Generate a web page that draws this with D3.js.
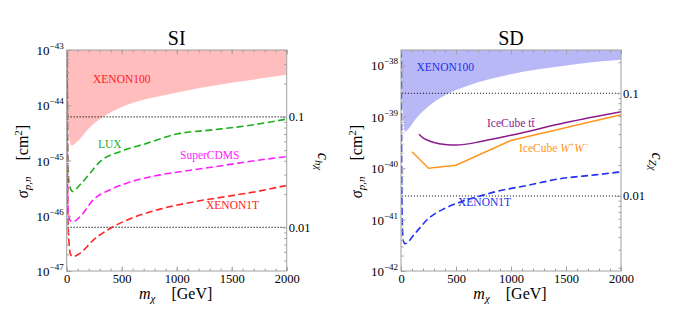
<!DOCTYPE html>
<html><head><meta charset="utf-8">
<script src="https://cdn.jsdelivr.net/npm/d3@7"></script>
<style>
body{margin:0;background:#fff}
svg{display:block;font-family:"Liberation Serif","Times New Roman",serif}
svg text, svg tspan{font-family:"Liberation Serif","Times New Roman",serif}
</style>
</head><body>
<svg id="chart" width="674" height="336"></svg>
<script>
// ---------- data (log10 of cross-section in cm^2, mass in GeV) ----------
const massTicks = [0, 500, 1000, 1500, 2000];
const siDecades = [-47, -46, -45, -44, -43];
const sdDecades = [-42, -41, -40, -39, -38];
const couplingTicks = [0.01, 0.1];
const couplingTickLabels = ["0.01", "0.1"];

// SI panel
const siXenon100Mass = [2, 8, 15, 25, 35, 45, 70, 121, 181, 302, 453, 604, 907, 1209, 1511, 2000];
const siXenon100Log  = [-43.0, -43.9, -44.38, -44.6, -44.7, -44.73, -44.7, -44.61, -44.46, -44.25, -44.075, -43.955, -43.81, -43.69, -43.59, -43.45];
const siLuxMass = [4, 10, 25, 54, 121, 212, 303, 485, 727, 1000, 1303, 1606, 2000];
const siLuxLog  = [-43.0, -45.0, -45.45, -45.56, -45.44, -45.23, -45.02, -44.84, -44.69, -44.52, -44.45, -44.38, -44.25];
const siCdmsMass = [2, 4, 8, 15, 30, 54, 121, 242, 394, 545, 848, 1151, 1455, 1757, 2000];
const siCdmsLog  = [-42.0, -43.5, -45.5, -45.95, -46.08, -46.11, -46.02, -45.71, -45.53, -45.41, -45.26, -45.17, -45.08, -44.99, -44.93];
const siX1tMass = [4, 10, 20, 35, 54, 121, 242, 394, 545, 848, 1151, 1455, 1757, 2000];
const siX1tLog  = [-43.0, -45.9, -46.45, -46.7, -46.74, -46.68, -46.44, -46.23, -46.08, -45.88, -45.75, -45.65, -45.55, -45.45];

// SD panel
const sdXenon100Mass = [3, 10, 20, 30, 36, 60, 127, 248, 400, 600, 800, 1000, 1300, 1600, 2000];
const sdXenon100Log  = [-37.6, -38.6, -39.0, -39.25, -39.29, -39.25, -39.06, -38.80, -38.58, -38.40, -38.27, -38.17, -38.06, -37.97, -37.89];
const sdX1tMass = [2, 6, 12, 20, 36, 127, 248, 400, 551, 703, 855, 1157, 1461, 1764, 2000];
const sdX1tLog  = [-37.5, -40.0, -41.1, -41.4, -41.47, -41.27, -40.98, -40.78, -40.65, -40.55, -40.46, -40.33, -40.20, -40.13, -40.07];
const sdIceTTMass = [164, 200, 250, 300, 400, 500, 750, 1000, 1500, 2000];
const sdIceTTLog  = [-39.34, -39.41, -39.46, -39.50, -39.54, -39.55, -39.47, -39.36, -39.11, -38.90];
const sdIceWWMass = [100, 250, 500, 1000, 2000];
const sdIceWWLog  = [-39.68, -40.0, -39.94, -39.46, -38.96];

// dotted reference couplings
const dottedMass = [8, 2000];
const dottedCouplings = [0.1, 0.01];

// ---------- drawing ----------
const FONT = "'Liberation Serif','Times New Roman',serif";
const svg = d3.select("#chart");
const zip = (m, l) => m.map((v, i) => ({m: v, s: Math.pow(10, l[i])}));

function drawPanel(p, idx) {
  const x = d3.scaleLinear().domain([0, 2000]).range([p.left, p.right]);
  const y = d3.scaleLog().domain(p.yDomain).range([p.bottom, p.top]);
  const yc = d3.scaleLog()
    .domain([Math.sqrt(p.yDomain[0] / p.cK), Math.sqrt(p.yDomain[1] / p.cK)])
    .range([p.bottom, p.top]);

  const clipId = "clip" + idx;
  svg.append("clipPath").attr("id", clipId).append("rect")
    .attr("x", p.left).attr("y", p.top).attr("width", p.right - p.left).attr("height", p.bottom - p.top);

  const g = svg.append("g").attr("clip-path", `url(#${clipId})`);

  // shaded XENON100 region
  const area = d3.area().x(d => x(d.m)).y0(p.top).y1(d => y(d.s)).curve(d3.curveMonotoneX);
  g.append("path").datum(zip(p.region.m, p.region.l)).attr("d", area).attr("fill", p.region.color);

  // dotted coupling lines
  dottedCouplings.forEach(c => {
    const line = d3.line().x(d => x(d)).y(() => yc(c));
    g.append("path").datum(dottedMass).attr("d", line)
      .attr("fill", "none").attr("stroke", "#000").attr("stroke-width", 1.1).attr("stroke-dasharray", "1,2");
  });

  // curves
  p.curves.forEach(cv => {
    const line = d3.line().x(d => x(d.m)).y(d => y(d.s)).curve(cv.linear ? d3.curveLinear : d3.curveMonotoneX);
    g.append("path").datum(zip(cv.m, cv.l)).attr("d", line)
      .attr("fill", "none").attr("stroke", cv.color).attr("stroke-width", cv.width || 1.6)
      .attr("stroke-dasharray", cv.dashed ? "7,3.5" : null);
  });

  const gray = "#a0a0a0";
  svg.append("rect").attr("x", p.left).attr("y", p.top).attr("width", p.right - p.left).attr("height", p.bottom - p.top)
    .attr("fill", "none").attr("stroke", gray).attr("stroke-width", 1);

  const minorMass = d3.range(0, 2001, 100);
  const styleAxis = sel => { sel.attr("font-family", FONT); sel.select(".domain").remove(); sel.selectAll("line").attr("stroke", gray); };

  svg.append("g").attr("transform", `translate(0,${p.bottom})`)
    .call(d3.axisBottom(x).tickValues(minorMass).tickSize(-2.5).tickFormat("")).call(styleAxis);
  const bx = svg.append("g").attr("transform", `translate(0,${p.bottom})`)
    .call(d3.axisBottom(x).tickValues(massTicks).tickSize(-4.5).tickPadding(3).tickFormat(d3.format("d"))).call(styleAxis);
  bx.attr("font-size", 12.5);
  bx.selectAll("text").attr("fill", "#000");
  svg.append("g").attr("transform", `translate(0,${p.top})`)
    .call(d3.axisTop(x).tickValues(minorMass).tickSize(-2.5).tickFormat("")).call(styleAxis);
  svg.append("g").attr("transform", `translate(0,${p.top})`)
    .call(d3.axisTop(x).tickValues(massTicks).tickSize(-4.5).tickFormat("")).call(styleAxis);

  const minorY = [];
  for (let e = Math.floor(Math.log10(p.yDomain[0])); e <= Math.ceil(Math.log10(p.yDomain[1])); e++)
    for (let k = 2; k <= 9; k++) { const v = k * Math.pow(10, e); if (v > p.yDomain[0] && v < p.yDomain[1]) minorY.push(v); }
  svg.append("g").attr("transform", `translate(${p.left},0)`)
    .call(d3.axisLeft(y).tickValues(minorY).tickSize(-2.5).tickFormat("")).call(styleAxis);
  svg.append("g").attr("transform", `translate(${p.left},0)`)
    .call(d3.axisLeft(y).tickValues(p.decades.map(e => Math.pow(10, e))).tickSize(-4.5).tickFormat("")).call(styleAxis);
  p.decades.forEach(e => {
    const t = svg.append("text").attr("x", p.left - 3).attr("y", y(Math.pow(10, e)) + 5)
      .attr("text-anchor", "end").attr("font-family", FONT);
    t.append("tspan").attr("font-size", 13).text("10");
    t.append("tspan").attr("font-size", 9).attr("dy", -6).text("\u2212" + (-e));
  });

  const cd = yc.domain();
  const minorC = [];
  for (let e = -3; e <= 0; e++) for (let k = 2; k <= 9; k++) { const v = k * Math.pow(10, e); if (v > cd[0] && v < cd[1]) minorC.push(v); }
  svg.append("g").attr("transform", `translate(${p.right},0)`)
    .call(d3.axisRight(yc).tickValues(minorC).tickSize(-2.5).tickFormat("")).call(styleAxis);
  const ra = svg.append("g").attr("transform", `translate(${p.right},0)`)
    .call(d3.axisRight(yc).tickValues(couplingTicks).tickSize(-4.5).tickPadding(2)
      .tickFormat((d, i) => couplingTickLabels[i])).call(styleAxis);
  ra.attr("font-size", 12.5);
  ra.selectAll("text").attr("fill", "#000");

  svg.append("text").attr("x", (p.left + p.right) / 2).attr("y", 45).attr("text-anchor", "middle")
    .attr("font-family", FONT).attr("font-size", 20).text(p.title);

  const xl = svg.append("text").attr("x", (p.left + p.right) / 2 - 1).attr("y", 299).attr("text-anchor", "middle")
    .attr("font-family", FONT).attr("font-size", 16);
  xl.append("tspan").attr("font-style", "italic").text("m");
  xl.append("tspan").attr("font-style", "italic").attr("font-size", 11).attr("dy", 3).text("\u03c7");
  xl.append("tspan").attr("dy", -3).text("\u2003[GeV]");

  const cy = (p.top + p.bottom) / 2 + 1;
  const yl = svg.append("text").attr("transform", `translate(${p.left - 39},${cy}) rotate(-90)`)
    .attr("text-anchor", "middle").attr("font-family", FONT).attr("font-size", 16);
  yl.append("tspan").attr("font-style", "italic").text("\u03c3");
  yl.append("tspan").attr("font-style", "italic").attr("font-size", 11).attr("dy", 3).text("p,n");
  yl.append("tspan").attr("dy", -3).text("\u2003[cm");
  yl.append("tspan").attr("font-size", 11).attr("dy", -6).text("2");
  yl.append("tspan").attr("dy", 6).text("]");

  const rl = svg.append("text").attr("transform", `translate(${p.right + 31},${cy}) rotate(90)`)
    .attr("text-anchor", "middle").attr("font-family", FONT).attr("font-size", 16);
  rl.append("tspan").attr("font-style", "italic").text("c");
  rl.append("tspan").attr("font-style", "italic").attr("font-size", 11).attr("dy", 3).text(p.cSub);

  p.labels.forEach(lb => {
    const t = svg.append("text").attr("x", lb.x).attr("y", lb.y).attr("font-family", FONT)
      .attr("font-size", 11.5).attr("fill", lb.color);
    lb.parts.forEach(pt => {
      const s = t.append("tspan").text(pt.t).attr("fill", lb.color);
      if (pt.i) s.attr("font-style", "italic");
      if (pt.small) s.attr("font-size", 8);
      if (pt.dy) s.attr("dy", pt.dy);
    });
  });
}

const panels = [
  {
    title: "SI", left: 66.7, right: 286.7, top: 50, bottom: 271,
    yDomain: [1e-47, 1e-43], decades: siDecades, cK: Math.pow(10, -42.21), cSub: "h\u03c7",
    region: {m: siXenon100Mass, l: siXenon100Log, color: "#ffbdbd"},
    curves: [
      {m: siLuxMass, l: siLuxLog, color: "#1fae1f", dashed: true},
      {m: siX1tMass, l: siX1tLog, color: "#ff2424", dashed: true},
      {m: siCdmsMass, l: siCdmsLog, color: "#ff1dff", dashed: true}
    ],
    labels: [
      {x: 93, y: 83, color: "#ff2020", parts: [{t: "XENON100"}]},
      {x: 98, y: 148, color: "#1fae1f", parts: [{t: "LUX"}]},
      {x: 180, y: 159, color: "#ff1dff", parts: [{t: "SuperCDMS"}]},
      {x: 206, y: 209, color: "#ff2020", parts: [{t: "XENON1T"}]}
    ]
  },
  {
    title: "SD", left: 401, right: 621, top: 50, bottom: 271,
    yDomain: [1e-42, 2e-38], decades: sdDecades, cK: Math.pow(10, -36.54), cSub: "Z\u03c7",
    region: {m: sdXenon100Mass, l: sdXenon100Log, color: "#b8b8f7"},
    curves: [
      {m: sdIceWWMass, l: sdIceWWLog, color: "#ff9520", linear: true, width: 1.5},
      {m: sdIceTTMass, l: sdIceTTLog, color: "#8c1a8c", width: 1.5},
      {m: sdX1tMass, l: sdX1tLog, color: "#2030f0", dashed: true}
    ],
    labels: [
      {x: 416.5, y: 71, color: "#2030f0", parts: [{t: "XENON100"}]},
      {x: 487, y: 127, color: "#8c1a8c", parts: [{t: "IceCube tt\u0304"}]},
      {x: 519, y: 152, color: "#ff9520", parts: [{t: "IceCube "}, {t: "W", i: true}, {t: "+", small: true, dy: -5}, {t: "W", i: true, dy: 5}, {t: "\u2212", small: true, dy: -5}]},
      {x: 458, y: 206, color: "#2030f0", parts: [{t: "XENON1T"}]}
    ]
  }
];

panels.forEach(drawPanel);
</script>
</body></html>
